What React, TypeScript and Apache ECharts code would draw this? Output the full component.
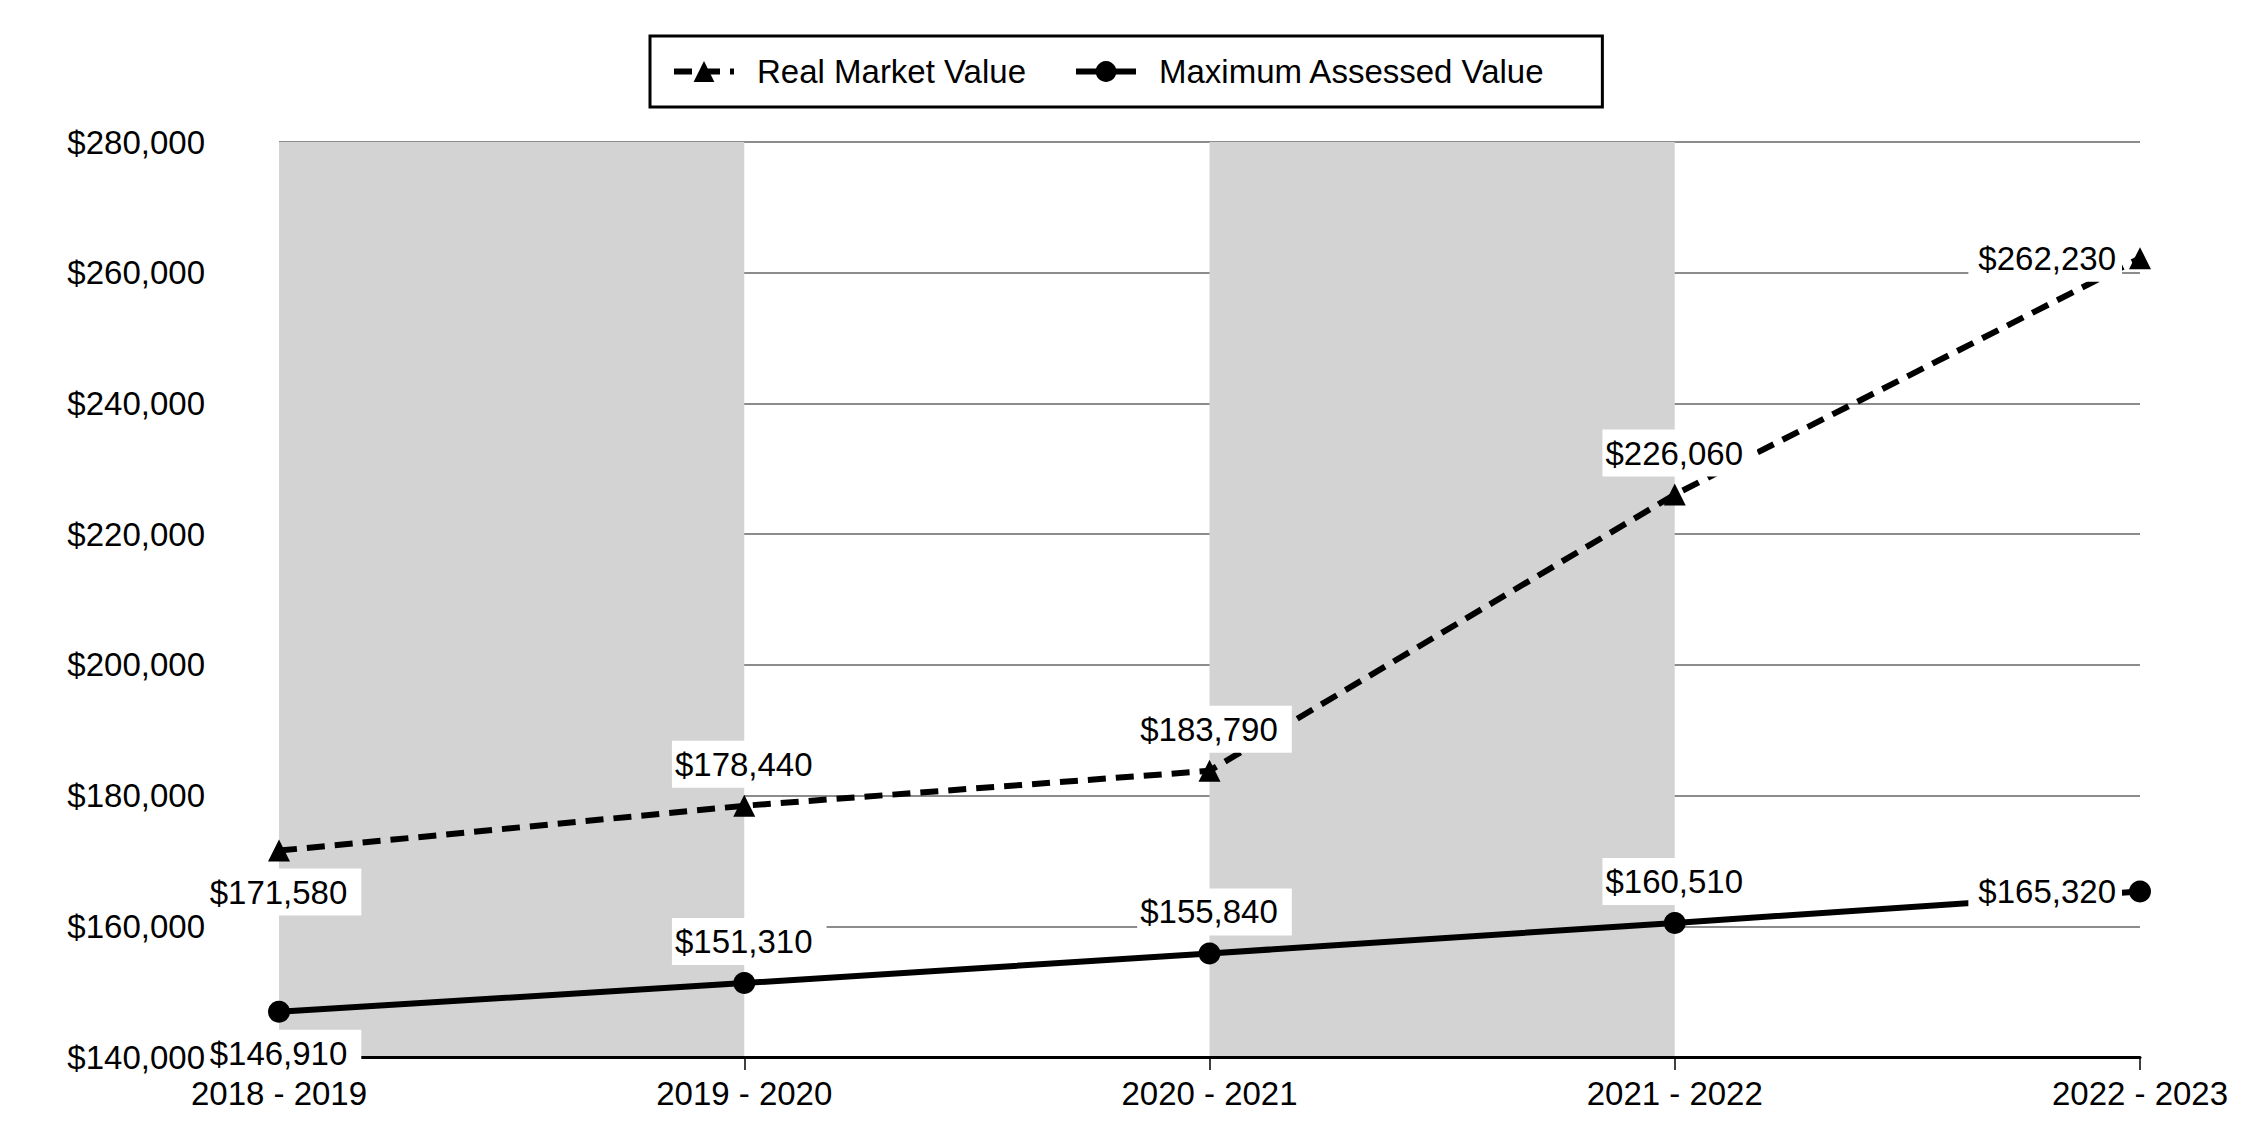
import React, { useEffect, useRef } from "react";
import * as echarts from "echarts";

const categories = ["2018 - 2019", "2019 - 2020", "2020 - 2021", "2021 - 2022", "2022 - 2023"];
const realMarketValue = [171580, 178440, 183790, 226060, 262230];
const maxAssessedValue = [146910, 151310, 155840, 160510, 165320];
const labelPositions = ["bottom", "top", "top", "top", "left"];
const yMin = 140000;
const yMax = 280000;
const yInterval = 20000;

const FONT = "'Liberation Sans', Arial, sans-serif";
const FS = 33;
const money = (v: number) => "$" + v.toLocaleString("en-US");

function makeData(values: number[]) {
  return values.map((v, i) => ({
    value: v,
    label:
      labelPositions[i] === "left"
        ? { position: "left", padding: [7, 6, 7, 10], offset: [0, 0] }
        : { position: labelPositions[i], padding: [7, 14, 7, 3], offset: [5, 0] },
  }));
}

export default function App() {
  const ref = useRef<HTMLDivElement>(null);
  useEffect(() => {
    document.body.style.margin = "0";
    const chart = echarts.init(ref.current!, undefined, { renderer: "svg" });
    const labelStyle = {
      show: true,
      formatter: (p: any) => money(p.value),
      color: "#000",
      fontFamily: FONT,
      fontSize: FS,
      backgroundColor: "#ffffff",
      padding: [7, 10],
      distance: 7,
    };
    chart.setOption({
      animation: false,
      backgroundColor: "#ffffff",
      textStyle: { fontFamily: FONT },
      legend: {
        top: 36,
        left: 650,
        itemWidth: 60,
        itemHeight: 26,
        itemGap: 47,
        borderColor: "#000",
        borderWidth: 3,
        padding: [19, 57, 19, 21],
        lineStyle: { width: 6 },
        textStyle: { fontFamily: FONT, fontSize: FS, color: "#000", padding: [0, 0, 0, 18] },
        data: ["Real Market Value", "Maximum Assessed Value"],
      },
      grid: { left: 279, right: 110, top: 142, bottom: 83 },
      xAxis: {
        type: "category",
        data: categories,
        boundaryGap: false,
        axisLine: { lineStyle: { color: "#000", width: 3 } },
        axisTick: { show: true, length: 13, lineStyle: { color: "#000", width: 1.5 } },
        axisLabel: { color: "#000", fontFamily: FONT, fontSize: FS, margin: 20, interval: 0 },
        splitLine: { show: false },
        splitArea: { show: true, interval: 0, areaStyle: { color: ["#d3d3d3", "rgba(255,255,255,0)"] } },
      },
      yAxis: {
        type: "value",
        min: yMin,
        max: yMax,
        interval: yInterval,
        axisLine: { show: false },
        axisTick: { show: false },
        axisLabel: { color: "#000", fontFamily: FONT, fontSize: FS, margin: 74, formatter: (v: number) => money(v) },
        splitLine: { lineStyle: { color: "#8c8c8c", width: 2 } },
      },
      series: [
        {
          name: "Real Market Value",
          type: "line",
          data: makeData(realMarketValue),
          symbol: "triangle",
          symbolSize: 22,
          itemStyle: { color: "#000" },
          lineStyle: { color: "#000", width: 6, type: [18, 10] },
          label: labelStyle,
          z: 3,
        },
        {
          name: "Maximum Assessed Value",
          type: "line",
          data: makeData(maxAssessedValue),
          symbol: "circle",
          symbolSize: 22,
          itemStyle: { color: "#000" },
          lineStyle: { color: "#000", width: 6, type: "solid" },
          label: labelStyle,
          z: 3,
        },
      ],
    });
    return () => chart.dispose();
  }, []);
  return <div ref={ref} style={{ position: "absolute", left: 0, top: 0, width: 2250, height: 1140 }} />;
}
